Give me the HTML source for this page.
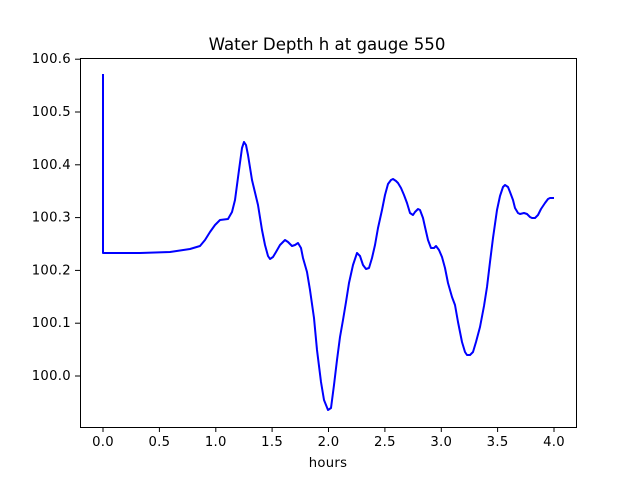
<!DOCTYPE html>
<html><head><meta charset="utf-8"><style>body{margin:0;background:#fff}svg{display:block}text{font-family:"DejaVu Sans","Liberation Sans",sans-serif;fill:#000}</style></head>
<body>
<svg width="640" height="480" viewBox="0 0 640 480">
<rect width="640" height="480" fill="#fff"/>
<text x="327" y="50" font-size="16.6" text-anchor="middle">Water Depth h at gauge 550</text>
<polyline fill="none" stroke="#0000ff" stroke-width="2" stroke-linejoin="round" points="103,74 103,253 140,253 170,252 190,249 200,246 205,240 210,232 215,225 220,220 228,219 232,212 235,200 239,170 242,148 244,142 246,145 248,155 252,180 258,205 262,230 265,245 268,256 270,259 273,257 276,252 280,245 285,240 288,242 292,246 295,245 298,243 301,248 303,258 307,272 310,290 314,318 317,350 321,382 324,400 328,410 331,408 334,385 337,360 340,337 343,320 346,302 349,283 353,265 357,253 360,256 363,265 366,269 369,268 372,258 375,245 378,228 382,210 385,195 388,184 391,180 393,179 396,181 398,183 401,188 404,195 407,203 410,213 413,215 415,212 418,209 420,210 423,218 425,227 428,240 431,248 434,248 436,246 439,250 442,257 445,268 448,283 452,297 455,305 458,322 462,342 465,352 467,355 470,355 473,352 476,342 480,327 484,306 487,287 490,262 493,238 497,210 500,196 503,187 505,185 508,187 510,192 513,200 515,208 518,213 520,214 524,213 527,214 530,217 532,218 535,218 538,215 541,209 545,203 548,199 550,198 554,198"/>
<rect x="80.5" y="58.5" width="496" height="369" fill="none" stroke="#000" stroke-width="1"/>
<g stroke="#000" stroke-width="1">
<line x1="103" y1="427" x2="103" y2="432"/><line x1="159.4" y1="427" x2="159.4" y2="432"/><line x1="215.8" y1="427" x2="215.8" y2="432"/><line x1="272.1" y1="427" x2="272.1" y2="432"/><line x1="328.5" y1="427" x2="328.5" y2="432"/><line x1="384.9" y1="427" x2="384.9" y2="432"/><line x1="441.3" y1="427" x2="441.3" y2="432"/><line x1="497.6" y1="427" x2="497.6" y2="432"/><line x1="554" y1="427" x2="554" y2="432"/>
<line x1="75" y1="376" x2="80" y2="376"/><line x1="75" y1="323.2" x2="80" y2="323.2"/><line x1="75" y1="270.4" x2="80" y2="270.4"/><line x1="75" y1="217.6" x2="80" y2="217.6"/><line x1="75" y1="164.8" x2="80" y2="164.8"/><line x1="75" y1="112" x2="80" y2="112"/><line x1="75" y1="59.2" x2="80" y2="59.2"/>
</g>
<g font-size="13.2" text-anchor="middle" letter-spacing="0.3">
<text x="103" y="446">0.0</text><text x="159.4" y="446">0.5</text><text x="215.8" y="446">1.0</text><text x="272.1" y="446">1.5</text><text x="328.5" y="446">2.0</text><text x="384.9" y="446">2.5</text><text x="441.3" y="446">3.0</text><text x="497.6" y="446">3.5</text><text x="554" y="446">4.0</text>
<text x="328" y="467">hours</text>
</g>
<g font-size="13.2" text-anchor="end" letter-spacing="0.3">
<text x="71" y="380">100.0</text><text x="71" y="327.2">100.1</text><text x="71" y="274.4">100.2</text><text x="71" y="221.6">100.3</text><text x="71" y="168.8">100.4</text><text x="71" y="116">100.5</text><text x="71" y="63.2">100.6</text>
</g>
</svg>
</body></html>
